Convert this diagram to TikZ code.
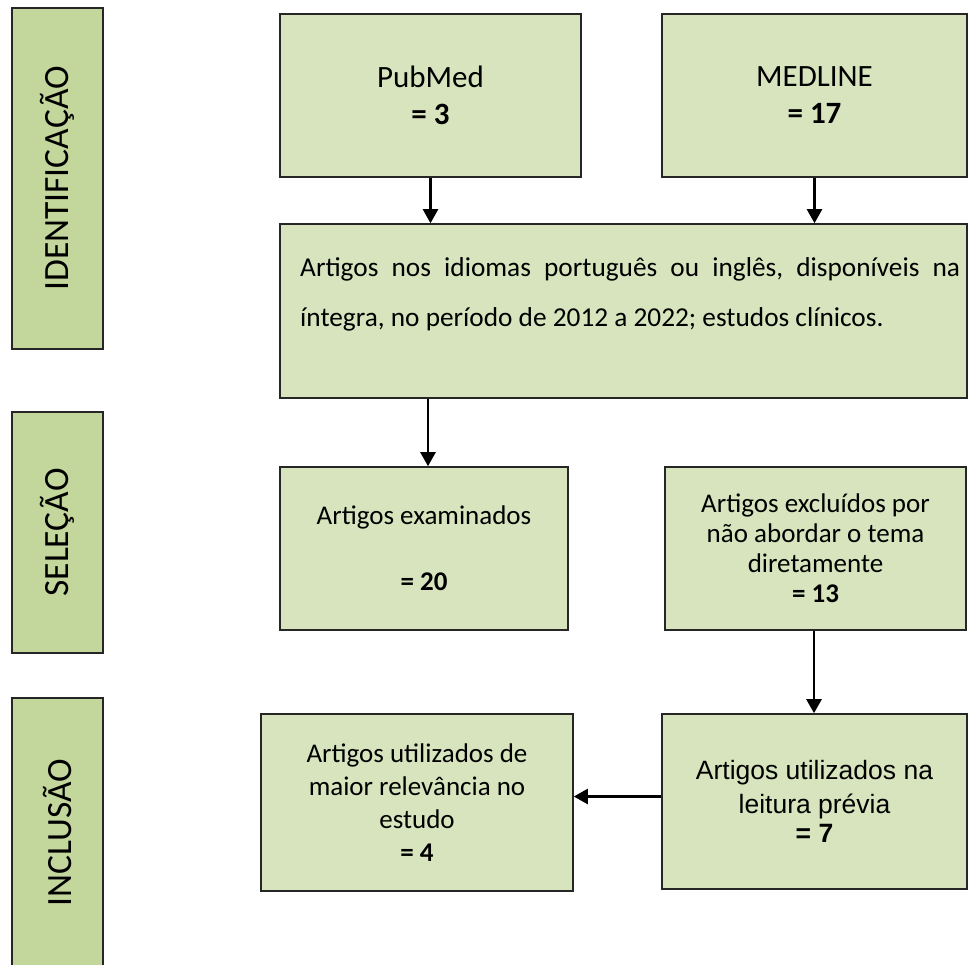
\documentclass[tikz,border=0pt]{standalone}
\usepackage{fontspec}
\setmainfont{Carlito}
\newfontfamily\arialfont{Liberation Sans}
\usetikzlibrary{arrows.meta}
\definecolor{boxgreen}{HTML}{D7E4BD}
\definecolor{bargreen}{HTML}{C3D69B}
\tikzset{
  box/.style={draw=black!85, line width=1.6pt, fill=boxgreen, inner sep=0pt, align=center,
    font=\fontsize{27pt}{33pt}\selectfont},
  bar/.style={draw=black!85, line width=1.6pt, fill=bargreen, inner sep=0pt,
    minimum width=91pt, font=\fontsize{35.5pt}{40pt}\selectfont},
  arr/.style={line width=2.5pt, -{Triangle[length=14pt,width=15pt]}}
}
\begin{document}
\begin{tikzpicture}[x=1pt,y=-1pt]
\useasboundingbox (0,0) rectangle (968,965);
\clip (0,0) rectangle (968,965);
% phase bars
\node[bar, minimum height=341pt] (idbar) at (57.5,178.5) {\rotatebox{90}{IDENTIFICAÇÃO}};
\node[bar, minimum height=241pt] (selbar) at (57.5,532.5) {\rotatebox{90}{SELEÇÃO}};
\node[bar, minimum height=270pt] (incbar) at (57.5,833) {\rotatebox{90}{INCLUSÃO}};
% boxes
\node[box, minimum width=301pt, minimum height=163pt,
  font=\fontsize{31pt}{37pt}\selectfont] (pubmed) at (430.5,95.5)
  {PubMed\\\textbf{= 3}};
\node[box, minimum width=305pt, minimum height=163pt,
  font=\fontsize{31pt}{37pt}\selectfont] (medline) at (814.5,95.5)
  {MEDLINE\\\textbf{= 17}};
\node[box, minimum width=687pt, minimum height=174pt] (big) at (623.5,311) {};
\node[anchor=north west, inner sep=0pt, align=left,
  font=\fontsize{27.3pt}{50pt}\selectfont] (bigtxt) at (300,257)
  {\hbox to 660pt{Artigos\hfill nos\hfill idiomas\hfill português\hfill ou\hfill inglês,\hfill disponíveis\hfill na}\\
   íntegra, no período de 2012 a 2022; estudos clínicos.};
\node[box, minimum width=288pt, minimum height=163pt] (exam) at (424,548.5)
  {Artigos examinados\\[33pt]\textbf{= 20}};
\node[box, minimum width=301pt, minimum height=163pt,
  font=\fontsize{27pt}{30pt}\selectfont] (excl) at (815.5,548.5)
  {Artigos excluídos por\\não abordar o tema\\diretamente\\\textbf{= 13}};
\node[box, minimum width=305pt, minimum height=175pt,
  font=\arialfont\fontsize{26.5pt}{32pt}\selectfont] (leit) at (814.5,801.5)
  {\raisebox{-3pt}{\shortstack{Artigos utilizados na\\[6pt]leitura prévia\\[2pt]\textbf{= 7}}}};
\node[box, minimum width=312pt, minimum height=177pt] (maior) at (417,802.5)
  {Artigos utilizados de\\maior relevância no\\estudo\\\textbf{= 4}};
% connectors
\draw[arr] (pubmed.south) -- (pubmed.south |- big.north);
\draw[arr] (medline.south) -- (medline.south |- big.north);
\draw[arr] (big.south -| 428,0) -- (exam.north -| 428,0);
\draw[arr] (excl.south -| 814,0) -- (leit.north -| 814,0);
\draw[arr] ([yshift=5pt]leit.west) -- ([yshift=5pt]leit.west -| maior.east);
\end{tikzpicture}
\end{document}
